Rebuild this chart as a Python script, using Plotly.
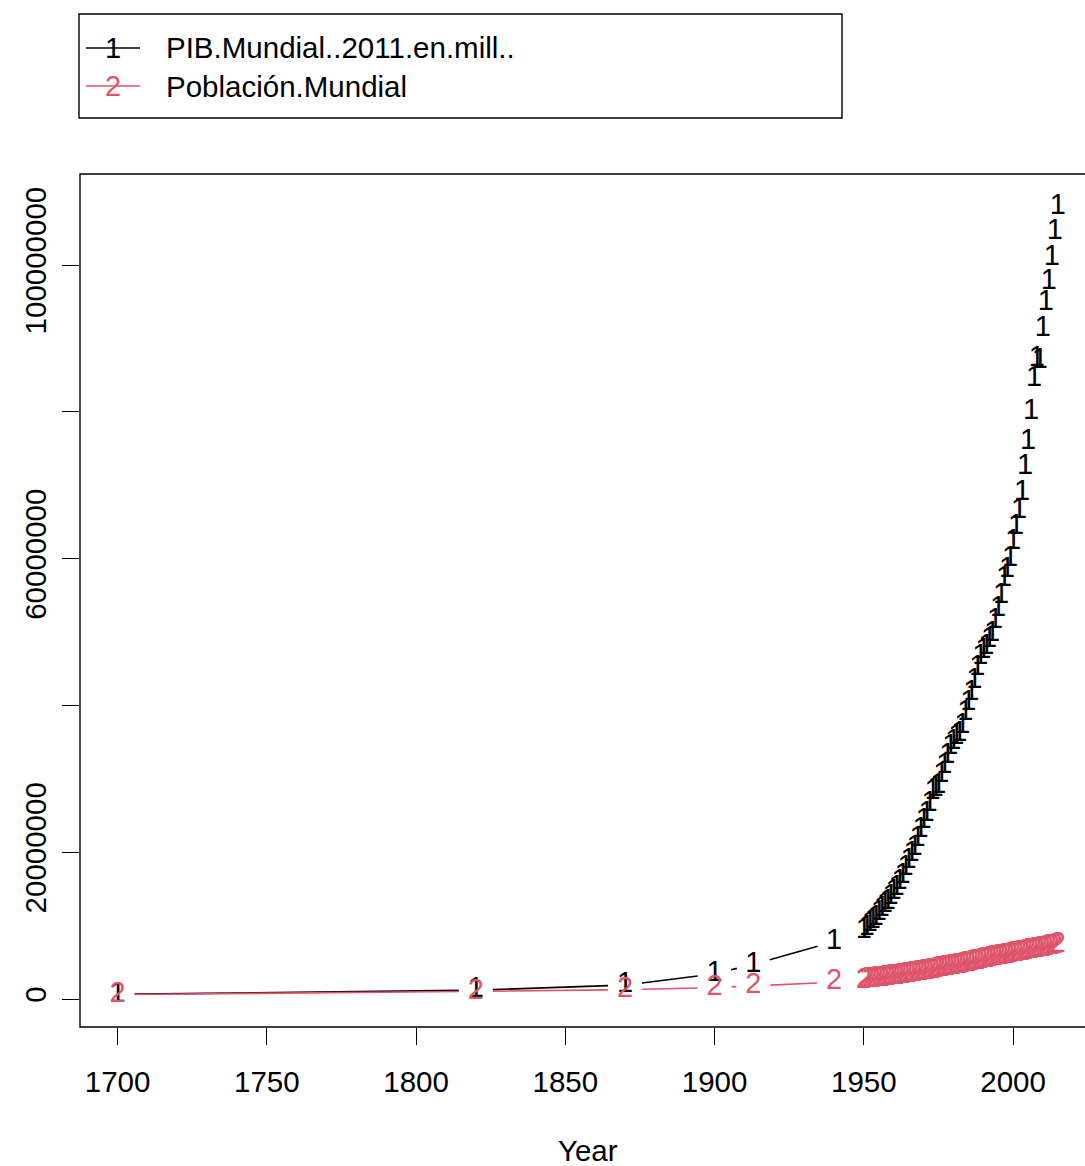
import plotly.graph_objects as go

# ---------------- data ----------------
years = [1700, 1820, 1870, 1900, 1913, 1940] + list(range(1950, 2016))

# World GDP (2011 int-$, millions)
gdp = [
    0.643e6, 1.20e6, 1.90e6, 3.42e6, 4.73e6, 7.81e6,
    # 1950-1959
    9.25e6, 9.75e6, 10.2e6, 10.7e6, 11.1e6, 11.8e6, 12.3e6, 12.8e6, 13.2e6, 13.9e6,
    # 1960-1969
    14.6e6, 15.2e6, 16.0e6, 16.8e6, 17.9e6, 18.8e6, 19.8e6, 20.6e6, 21.8e6, 23.1e6,
    # 1970-1979
    24.3e6, 25.3e6, 26.6e6, 28.2e6, 28.7e6, 29.0e6, 30.5e6, 31.8e6, 33.1e6, 34.4e6,
    # 1980-1989
    35.1e6, 35.8e6, 36.2e6, 37.3e6, 39.0e6, 40.4e6, 41.7e6, 43.3e6, 45.1e6, 46.6e6,
    # 1990-1999
    47.5e6, 48.0e6, 48.9e6, 49.8e6, 51.5e6, 53.2e6, 55.0e6, 57.2e6, 58.5e6, 60.0e6,
    # 2000-2009
    62.3e6, 64.3e6, 66.5e6, 69.0e6, 72.5e6, 75.9e6, 80.0e6, 84.5e6, 87.2e6, 87.0e6,
    # 2010-2015
    91.3e6, 94.8e6, 97.7e6, 101.0e6, 104.5e6, 108.0e6,
]

# World population (thousands)
pop = [
    603e3, 1042e3, 1276e3, 1563e3, 1793e3, 2299e3,
    # 1950-1959
    2536e3, 2584e3, 2631e3, 2679e3, 2727e3, 2773e3, 2822e3, 2872e3, 2925e3, 2979e3,
    # 1960-1969
    3032e3, 3076e3, 3127e3, 3193e3, 3260e3, 3325e3, 3394e3, 3464e3, 3535e3, 3609e3,
    # 1970-1979
    3685e3, 3761e3, 3837e3, 3913e3, 3989e3, 4062e3, 4134e3, 4206e3, 4278e3, 4352e3,
    # 1980-1989
    4440e3, 4520e3, 4603e3, 4686e3, 4769e3, 4853e3, 4939e3, 5027e3, 5115e3, 5204e3,
    # 1990-1999
    5310e3, 5395e3, 5479e3, 5562e3, 5643e3, 5724e3, 5804e3, 5884e3, 5963e3, 6042e3,
    # 2000-2009
    6127e3, 6205e3, 6282e3, 6360e3, 6438e3, 6517e3, 6596e3, 6675e3, 6755e3, 6835e3,
    # 2010-2015
    6916e3, 6997e3, 7080e3, 7162e3, 7244e3, 7380e3,
]

series_names = ["PIB.Mundial..2011.en.mill..", "Población.Mundial"]
series_symbols = ["1", "2"]
series_colors = ["#000000", "#DF536B"]

x_ticks = [1700, 1750, 1800, 1850, 1900, 1950, 2000]
y_ticks = [0, 20000000, 40000000, 60000000, 80000000, 100000000]
y_tick_labels = ["0", "20000000", "", "60000000", "", "100000000"]

# ---------------- layout geometry ----------------
W, H = 1085, 1166
ML, MR, MT, MB = 80, 0, 174, 139
PW, PH = W - ML - MR, H - MT - MB
XR = [1687.4, 2024.1]
YR = [-3.81e6, 112.4e6]
FONT = "Liberation Sans, Arial, Helvetica, sans-serif"
FS = 29.5
GAP = 17  # px gap around points (R type = "b")


def to_px(x, y):
    px = (x - XR[0]) / (XR[1] - XR[0]) * PW
    py = (y - YR[0]) / (YR[1] - YR[0]) * PH
    return px, py


def from_px(px, py):
    return (XR[0] + px / PW * (XR[1] - XR[0]),
            YR[0] + py / PH * (YR[1] - YR[0]))


def gapped_segments(xs, ys):
    lx, ly = [], []
    for i in range(len(xs) - 1):
        p1 = to_px(xs[i], ys[i])
        p2 = to_px(xs[i + 1], ys[i + 1])
        dx, dy = p2[0] - p1[0], p2[1] - p1[1]
        d = (dx * dx + dy * dy) ** 0.5
        if d > 2 * GAP:
            ux, uy = dx / d, dy / d
            a = from_px(p1[0] + GAP * ux, p1[1] + GAP * uy)
            b = from_px(p2[0] - GAP * ux, p2[1] - GAP * uy)
            lx += [a[0], b[0], None]
            ly += [a[1], b[1], None]
    return lx, ly


fig = go.Figure()
for vals, name, sym, col in zip([gdp, pop], series_names, series_symbols, series_colors):
    lx, ly = gapped_segments(years, vals)
    fig.add_trace(go.Scatter(x=lx, y=ly, mode="lines", line=dict(color=col, width=1.6),
                             showlegend=False, hoverinfo="skip"))
    fig.add_trace(go.Scatter(x=years, y=vals, mode="text", text=[sym] * len(years),
                             textposition="middle center",
                             textfont=dict(family=FONT, size=FS - 0.5, color=col),
                             name=name, showlegend=False, cliponaxis=False))


def paper(px, py):
    return (px - ML) / PW, (H - MB - py) / PH


shapes = []
# plot box (right edge falls outside the page)
shapes.append(dict(type="rect", xref="paper", yref="paper", x0=0, y0=0, x1=1.02, y1=1,
                   line=dict(color="black", width=1.4)))
# legend box
lx0, ly0 = paper(79, 118)
lx1, ly1 = paper(842, 14)
shapes.append(dict(type="rect", xref="paper", yref="paper", x0=lx0, y0=ly0, x1=lx1, y1=ly1,
                   line=dict(color="black", width=1.4)))
annotations = []
for i, (name, sym, col) in enumerate(zip(series_names, series_symbols, series_colors)):
    rowy = 48 + i * 38
    a0 = paper(86, rowy)
    a1 = paper(140, rowy)
    shapes.append(dict(type="line", xref="paper", yref="paper", x0=a0[0], y0=a0[1],
                       x1=a1[0], y1=a1[1], line=dict(color=col, width=1.6)))
    c = paper(113, rowy)
    annotations.append(dict(xref="paper", yref="paper", x=c[0], y=c[1], text=sym,
                            showarrow=False, xanchor="center", yanchor="middle",
                            font=dict(family=FONT, size=FS - 0.5, color=col)))
    t = paper(164, rowy)
    annotations.append(dict(xref="paper", yref="paper", x=t[0], y=t[1], text=name,
                            showarrow=False, xanchor="left", yanchor="middle",
                            font=dict(family=FONT, size=FS, color="black")))
# x-axis title
yt = paper(588, 1150)
annotations.append(dict(xref="paper", yref="paper", x=yt[0], y=yt[1], text="Year",
                        showarrow=False, xanchor="center", yanchor="middle",
                        font=dict(family=FONT, size=FS, color="black")))

fig.update_layout(
    width=W, height=H,
    margin=dict(l=ML, r=MR, t=MT, b=MB, pad=0),
    paper_bgcolor="white", plot_bgcolor="white",
    font=dict(family=FONT, size=FS, color="black"),
    shapes=shapes, annotations=annotations,
    showlegend=False,
    xaxis=dict(range=XR, tickvals=x_ticks, ticktext=[str(v) for v in x_ticks],
               ticks="outside", ticklen=17, tickwidth=1.4, tickcolor="black",
               showgrid=False, zeroline=False, showline=False,
               ticklabelstandoff=12, tickfont=dict(family=FONT, size=FS, color="black")),
    yaxis=dict(range=YR, tickvals=y_ticks, ticktext=y_tick_labels,
               ticks="outside", ticklen=17, tickwidth=1.4, tickcolor="black",
               showgrid=False, zeroline=False, showline=False, tickangle=-90,
               ticklabelstandoff=4, tickfont=dict(family=FONT, size=FS, color="black")),
)

fig.write_html("out.html")
